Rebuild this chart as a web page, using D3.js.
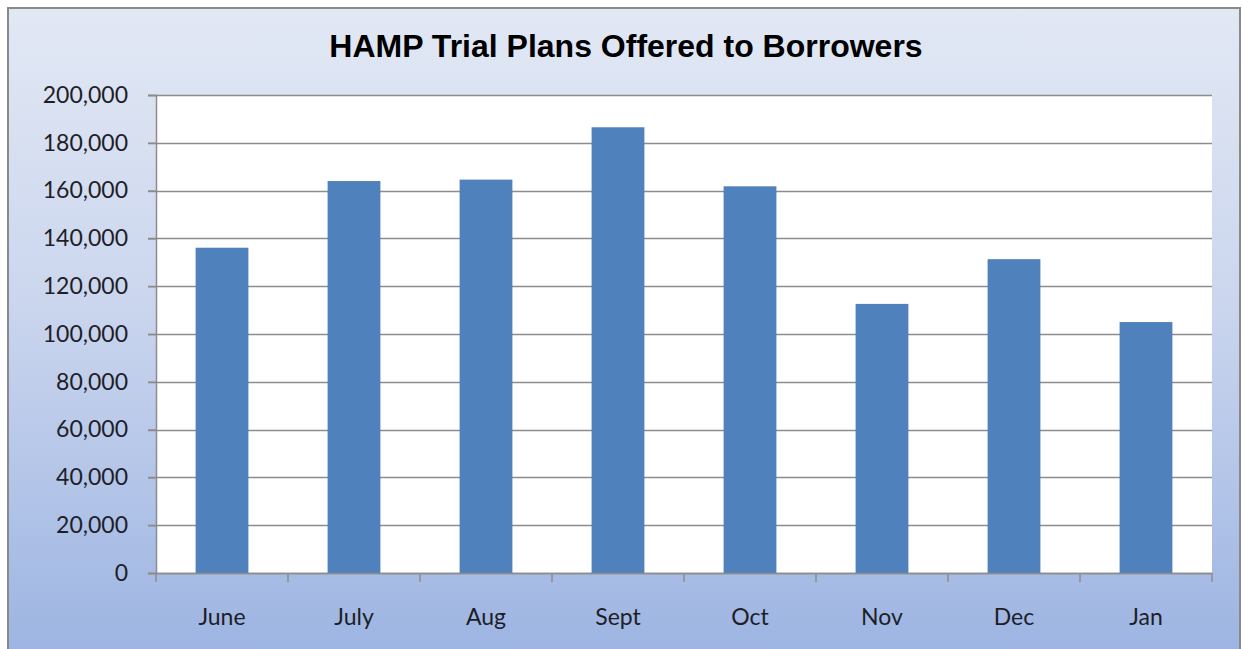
<!DOCTYPE html>
<html>
<head>
<meta charset="utf-8">
<script src="https://cdn.jsdelivr.net/npm/d3@7"></script>
<style>
  html, body { margin: 0; padding: 0; background: #fff; }
  svg { display: block; }
</style>
</head>
<body>
<svg width="1243" height="649"></svg>
<script>
// data
const months = ["June", "July", "Aug", "Sept", "Oct", "Nov", "Dec", "Jan"];
const trialPlans = [136100, 164000, 164600, 186500, 161800, 112600, 131300, 105000];
const yTicks = [0, 20000, 40000, 60000, 80000, 100000, 120000, 140000, 160000, 180000, 200000];
const chartTitle = "HAMP Trial Plans Offered to Borrowers";

const data = months.map(function(m, i) { return { key: m, value: trialPlans[i] }; });

let margin = { top: 95, right: 31, bottom: 76, left: 156 };

const svg = d3.select("svg");
const width = +svg.attr("width");
const height = +svg.attr("height");
const plotWidth = width - margin.left - margin.right;
const plotHeight = height - margin.top - margin.bottom;

// background gradient like the excel chart area
const defs = svg.append("defs");
const grad = defs.append("linearGradient")
  .attr("id", "bg").attr("x1", 0).attr("y1", 0).attr("x2", 0).attr("y2", 1);
grad.append("stop").attr("offset", "0%").attr("stop-color", "#e2e8f4");
grad.append("stop").attr("offset", "45%").attr("stop-color", "#cbd6ee");
grad.append("stop").attr("offset", "100%").attr("stop-color", "#9cb4e2");

svg.append("rect")
  .attr("x", 8).attr("y", 8)
  .attr("width", 1232).attr("height", 650)
  .attr("fill", "url(#bg)")
  .attr("stroke", "#8a8a8a")
  .attr("stroke-width", 2);

let yScale = d3.scaleLinear()
  .domain([0, 200000])
  .range([plotHeight, 0]);

let xScale = d3.scaleBand()
  .domain(months)
  .range([0, plotWidth])
  .paddingInner(0.6)
  .paddingOuter(0.3);

let plot = svg.append("g")
  .attr("id", "plot")
  .attr("transform", "translate(" + margin.left + "," + margin.top + ")");

plot.append("rect")
  .attr("width", plotWidth)
  .attr("height", plotHeight)
  .attr("fill", "#ffffff");

// gridlines
plot.append("g").attr("class", "grid")
  .selectAll("line")
  .data(yTicks)
  .enter().append("line")
  .attr("x1", -8)
  .attr("x2", plotWidth)
  .attr("y1", function(d) { return Math.round(yScale(d)) + 0.5; })
  .attr("y2", function(d) { return Math.round(yScale(d)) + 0.5; })
  .attr("stroke", "#8c8c8c")
  .attr("stroke-width", 1.5);

// bars
plot.selectAll("rect.bar")
  .data(data)
  .enter().append("rect")
  .attr("class", "bar")
  .attr("x", function(d) { return xScale(d.key); })
  .attr("width", xScale.bandwidth())
  .attr("y", function(d) { return yScale(d.value); })
  .attr("height", function(d) { return plotHeight - yScale(d.value); })
  .attr("fill", "#4f81bd");

// y axis
let yAxis = d3.axisLeft(yScale)
  .tickValues(yTicks)
  .tickSize(8)
  .tickPadding(20)
  .tickFormat(d3.format(","));

let yGroup = plot.append("g").attr("id", "y-axis").call(yAxis);
yGroup.select(".domain").attr("stroke", "#8c8c8c").attr("stroke-width", 1.5);
yGroup.selectAll(".tick line").attr("stroke", "#8c8c8c").attr("stroke-width", 1.5);
yGroup.selectAll(".tick text")
  .attr("fill", "#1e1e28")
  .style("font-family", "Lato, 'Open Sans', sans-serif")
  .style("font-size", "23px");

// x axis, ticks between categories
let xGroup = plot.append("g").attr("id", "x-axis")
  .attr("transform", "translate(0," + plotHeight + ")");

xGroup.append("line")
  .attr("x1", 0).attr("x2", plotWidth)
  .attr("y1", 0.5).attr("y2", 0.5)
  .attr("stroke", "#8c8c8c").attr("stroke-width", 1.5);

xGroup.selectAll("line.tk")
  .data(d3.range(months.length + 1))
  .enter().append("line")
  .attr("class", "tk")
  .attr("x1", function(i) { return i * plotWidth / months.length; })
  .attr("x2", function(i) { return i * plotWidth / months.length; })
  .attr("y1", 0).attr("y2", 9)
  .attr("stroke", "#8c8c8c").attr("stroke-width", 1.5);

xGroup.selectAll("text")
  .data(months)
  .enter().append("text")
  .attr("x", function(d) { return xScale(d) + xScale.bandwidth() / 2; })
  .attr("y", 52)
  .attr("text-anchor", "middle")
  .attr("fill", "#1e1e28")
  .style("font-family", "Lato, 'Open Sans', sans-serif")
  .style("font-size", "23px")
  .text(function(d) { return d; });

// title
svg.append("text")
  .attr("x", 626)
  .attr("y", 57)
  .attr("text-anchor", "middle")
  .attr("fill", "#000")
  .style("font-family", "'Liberation Sans', Arial, sans-serif")
  .style("font-weight", "bold")
  .style("font-size", "32px")
  .text(chartTitle);
</script>
</body>
</html>
